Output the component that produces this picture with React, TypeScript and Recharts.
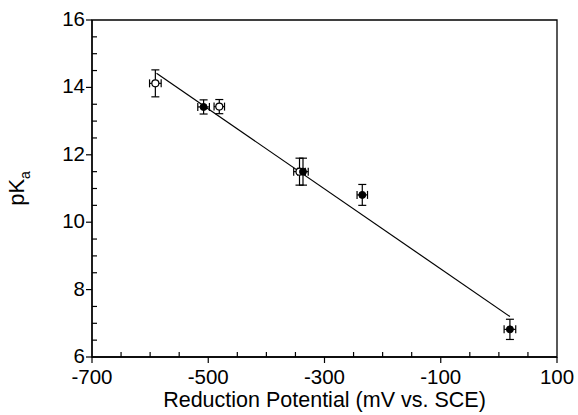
import React from "react";
import { ScatterChart, Scatter, XAxis, YAxis, ErrorBar, ReferenceLine, ReferenceArea, Label } from "recharts";

const xTicks = [-700, -650, -600, -550, -500, -450, -400, -350, -300, -250, -200, -150, -100, -50, 0, 50, 100];
const xLabels = [-700, -500, -300, -100, 100];
const yTicks = [6, 6.5, 7, 7.5, 8, 8.5, 9, 9.5, 10, 10.5, 11, 11.5, 12, 12.5, 13, 13.5, 14, 14.5, 15, 15.5, 16];
const yLabels = [6, 8, 10, 12, 14, 16];

// open circles
const openPotential = [-591, -481, -343];
const openPka = [14.12, 13.43, 11.5];
const openPotentialErr = [10, 9, 10];
const openPkaErr = [0.4, 0.21, 0.4];

// filled circles
const filledPotential = [-508, -337, -235, 19];
const filledPka = [13.42, 11.5, 10.81, 6.82];
const filledPotentialErr = [10, 9, 9, 10];
const filledPkaErr = [0.21, 0.4, 0.31, 0.3];

// least squares line endpoints
const fitPotential = [-589, 19];
const fitPka = [14.42, 7.2];

const FONT = "'Liberation Sans', Arial, Helvetica, sans-serif";

const openData = openPotential.map((x, i) => ({ x, y: openPka[i], ex: openPotentialErr[i], ey: openPkaErr[i] }));
const filledData = filledPotential.map((x, i) => ({ x, y: filledPka[i], ex: filledPotentialErr[i], ey: filledPkaErr[i] }));

function XTick(props: any) {
  const { x, y, payload } = props;
  const major = xLabels.includes(payload.value);
  return (
    <g>
      <line x1={x} x2={x} y1={y} y2={major ? y + 6 : y - 5} stroke="#000" strokeWidth={1.2} />
      {major && (
        <text x={x} y={y + 27} textAnchor="middle" fontSize={20.5} fontFamily={FONT} fill="#000">
          {payload.value}
        </text>
      )}
    </g>
  );
}

function YTick(props: any) {
  const { x, y, payload } = props;
  const major = yLabels.includes(payload.value);
  return (
    <g>
      <line x1={x} x2={major ? x - 6 : x + 5} y1={y} y2={y} stroke="#000" strokeWidth={1.2} />
      {major && (
        <text x={x - 7} y={y + 6} textAnchor="end" fontSize={20.5} fontFamily={FONT} fill="#000">
          {payload.value}
        </text>
      )}
    </g>
  );
}

function YTitle(props: any) {
  const { viewBox } = props;
  const cx = viewBox.x + 24;
  const cy = viewBox.y + viewBox.height / 2;
  return (
    <text transform={`translate(${cx},${cy}) rotate(-90)`} textAnchor="middle" fontSize={22} fontFamily={FONT} fill="#000">
      pK<tspan fontSize={14} dy={6}>a</tspan>
    </text>
  );
}

const OpenDot = (p: any) => <circle cx={p.cx} cy={p.cy} r={3.5} fill="#fff" stroke="#000" strokeWidth={1.2} />;
const FilledDot = (p: any) => <circle cx={p.cx} cy={p.cy} r={3.5} fill="#000" stroke="#000" strokeWidth={1} />;

export default function App() {
  return (
    <div style={{ position: "absolute", left: 0, top: 0, background: "#fff" }}>
      <ScatterChart width={578} height={415} margin={{ top: 20, right: 21, bottom: 0, left: 0 }}>
        <XAxis
          type="number"
          dataKey="x"
          domain={[-700, 100]}
          ticks={xTicks}
          interval={0}
          height={58}
          tickSize={0}
          tickMargin={0}
          tickLine={false}
          tick={<XTick />}
          axisLine={{ stroke: "#000", strokeWidth: 1.3 }}
        >
          <Label value="Reduction Potential (mV vs. SCE)" position="insideBottom" offset={8} fontSize={21.5} fontFamily={FONT} fill="#000" />
        </XAxis>
        <YAxis
          type="number"
          dataKey="y"
          domain={[6, 16]}
          ticks={yTicks}
          interval={0}
          width={92}
          tickSize={0}
          tickMargin={0}
          tickLine={false}
          tick={<YTick />}
          axisLine={{ stroke: "#000", strokeWidth: 1.3 }}
        >
          <Label content={<YTitle />} />
        </YAxis>
        <ReferenceArea x1={-700} x2={100} y1={6} y2={16} fill="none" stroke="#000" strokeWidth={1.3} />
        <ReferenceLine
          segment={[
            { x: fitPotential[0], y: fitPka[0] },
            { x: fitPotential[1], y: fitPka[1] },
          ]}
          stroke="#000"
          strokeWidth={1.2}
        />
        <Scatter data={openData} shape={OpenDot} isAnimationActive={false}>
          <ErrorBar dataKey="ex" direction="x" width={4} stroke="#000" strokeWidth={1.2} />
          <ErrorBar dataKey="ey" direction="y" width={4} stroke="#000" strokeWidth={1.2} />
        </Scatter>
        <Scatter data={filledData} shape={FilledDot} isAnimationActive={false}>
          <ErrorBar dataKey="ex" direction="x" width={4} stroke="#000" strokeWidth={1.2} />
          <ErrorBar dataKey="ey" direction="y" width={4} stroke="#000" strokeWidth={1.2} />
        </Scatter>
      </ScatterChart>
    </div>
  );
}
